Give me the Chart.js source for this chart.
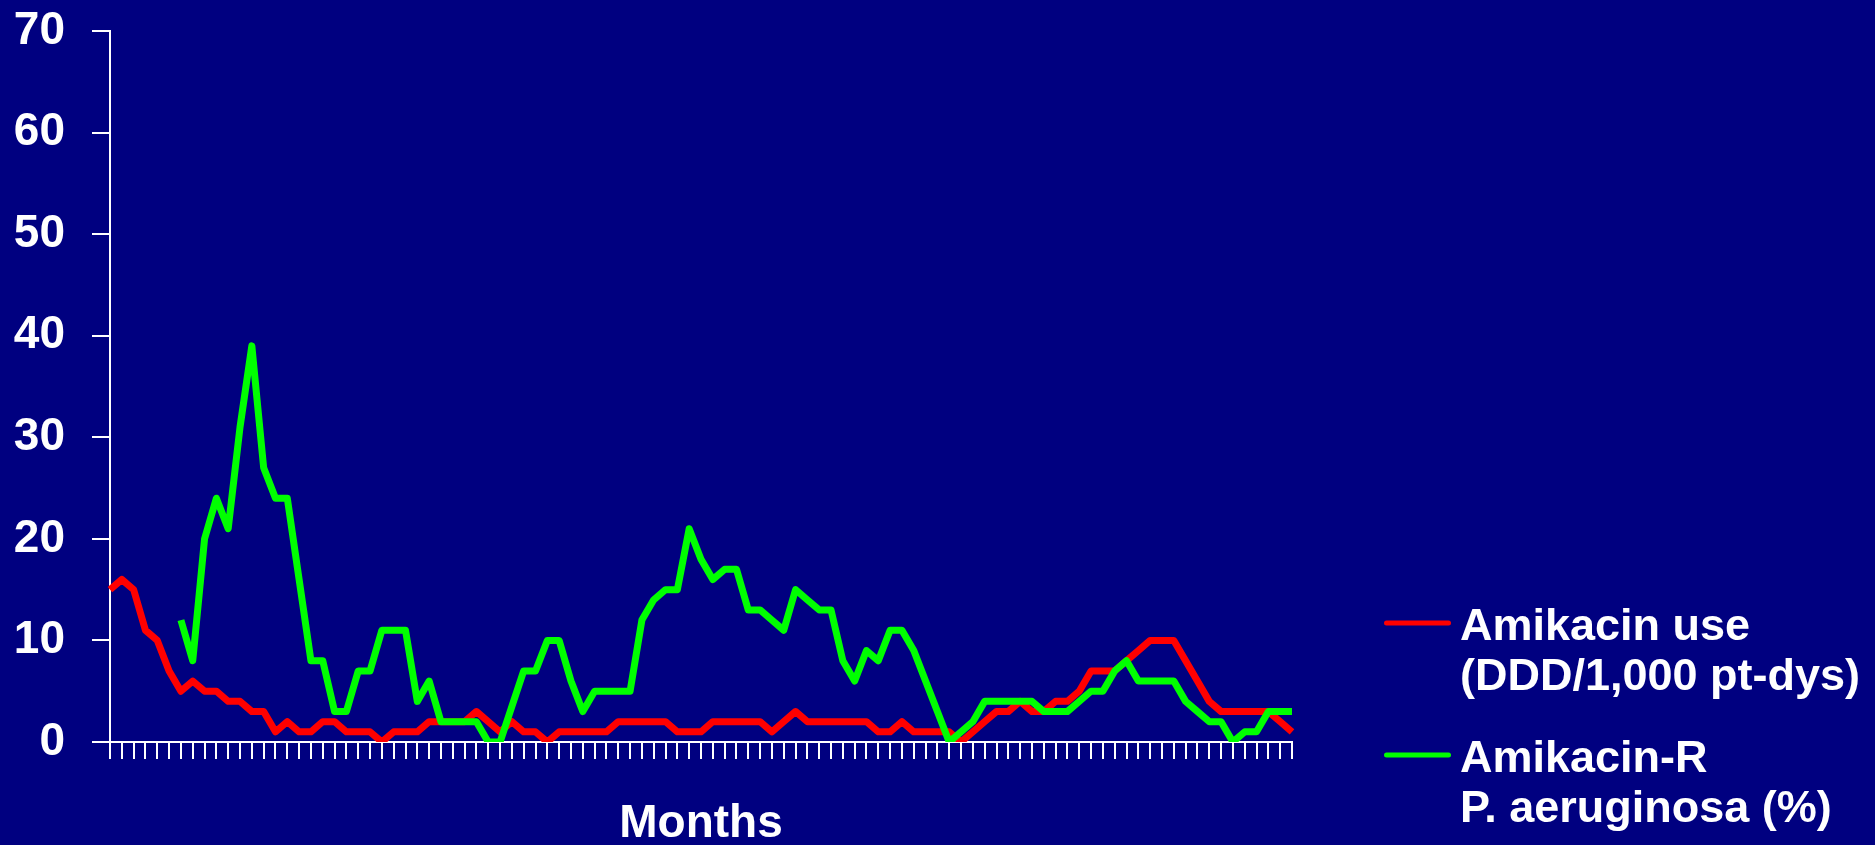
<!DOCTYPE html>
<html>
<head>
<meta charset="utf-8">
<title>Amikacin use and Amikacin-R P. aeruginosa</title>
<script src="https://cdn.jsdelivr.net/npm/chart.js@4.4.1/dist/chart.umd.min.js"></script>
<style>
  html, body { margin: 0; padding: 0; background: #000080; overflow: hidden; }
  canvas { display: block; }
</style>
</head>
<body>
<canvas id="chart" width="1875" height="845"></canvas>
<script>
// Month index along the category axis
const months = [
  1, 2, 3, 4, 5, 6, 7, 8, 9, 10, 11, 12, 13, 14, 15, 16, 17, 18, 19, 20,
  21, 22, 23, 24, 25, 26, 27, 28, 29, 30, 31, 32, 33, 34, 35, 36, 37, 38, 39, 40,
  41, 42, 43, 44, 45, 46, 47, 48, 49, 50, 51, 52, 53, 54, 55, 56, 57, 58, 59, 60,
  61, 62, 63, 64, 65, 66, 67, 68, 69, 70, 71, 72, 73, 74, 75, 76, 77, 78, 79, 80,
  81, 82, 83, 84, 85, 86, 87, 88, 89, 90, 91, 92, 93, 94, 95, 96, 97, 98, 99, 100,
  101
];

// Amikacin use, DDD per 1,000 patient-days
const amikacinUse = [
  15, 16, 15, 11, 10, 7, 5, 6, 5, 5,
  4, 4, 3, 3, 1, 2, 1, 1, 2, 2,
  1, 1, 1, 0, 1, 1, 1, 2, 2, 2,
  2, 3, 2, 1, 2, 1, 1, 0, 1, 1,
  1, 1, 1, 2, 2, 2, 2, 2, 1, 1,
  1, 2, 2, 2, 2, 2, 1, 2, 3, 2,
  2, 2, 2, 2, 2, 1, 1, 2, 1, 1,
  1, 1, 0, 1, 2, 3, 3, 4, 3, 3,
  4, 4, 5, 7, 7, 7, 8, 9, 10, 10,
  10, 8, 6, 4, 3, 3, 3, 3, 3, 2,
  1
];

// Amikacin-resistant P. aeruginosa, percent of isolates
const amikacinResistant = [
  null, null, null, null, null, null, 12, 8, 20, 24,
  21, 31, 39, 27, 24, 24, 16, 8, 8, 3,
  3, 7, 7, 11, 11, 11, 4, 6, 2, 2,
  2, 2, 0, 0, 3.5, 7, 7, 10, 10, 6,
  3, 5, 5, 5, 5, 12, 14, 15, 15, 21,
  18, 16, 17, 17, 13, 13, 12, 11, 15, 14,
  13, 13, 8, 6, 9, 8, 11, 11, 9, 6,
  3, 0, 1, 2, 4, 4, 4, 4, 4, 3,
  3, 3, 4, 5, 5, 7, 8, 6, 6, 6,
  6, 4, 3, 2, 2, 0, 1, 1, 3, 3,
  3
];

const yTickValues = [0, 10, 20, 30, 40, 50, 60, 70];
const seriesNames = [
  ['Amikacin use', '(DDD/1,000 pt-dys)'],
  ['Amikacin-R', 'P. aeruginosa (%)']
];
const xAxisTitle = 'Months';

const FONT = '"Liberation Sans", Arial, Helvetica, sans-serif';
const WHITE = '#ffffff';

// Two-line legend entries drawn to the right of the plot
const sideLegend = {
  id: 'sideLegend',
  afterDraw(chart) {
    const ctx = chart.ctx;
    ctx.save();
    chart.data.datasets.forEach((ds, i) => {
      const lineY = 623 + i * 132;
      ctx.strokeStyle = ds.borderColor;
      ctx.lineWidth = 5;
      ctx.lineCap = 'round';
      ctx.beginPath();
      ctx.moveTo(1386.5, lineY);
      ctx.lineTo(1448.5, lineY);
      ctx.stroke();

      ctx.fillStyle = WHITE;
      ctx.font = 'bold 45px ' + FONT;
      ctx.textAlign = 'left';
      ctx.textBaseline = 'alphabetic';
      ds.legendLines.forEach((line, j) => {
        ctx.fillText(line, 1460, lineY + 16.5 + j * 50);
      });
    });
    ctx.restore();
  }
};

const lineStyle = {
  borderWidth: 7,
  pointRadius: 0,
  pointHoverRadius: 0,
  tension: 0,
  fill: false,
  borderJoinStyle: 'round',
  borderCapStyle: 'butt',
  spanGaps: false
};

new Chart(document.getElementById('chart'), {
  type: 'line',
  data: {
    labels: months,
    datasets: [
      Object.assign({
        label: seriesNames[0].join(' '),
        legendLines: seriesNames[0],
        data: amikacinUse,
        borderColor: '#ff0000',
        order: 1
      }, lineStyle),
      Object.assign({
        label: seriesNames[1].join(' '),
        legendLines: seriesNames[1],
        data: amikacinResistant,
        borderColor: '#00ff00',
        order: 0
      }, lineStyle)
    ]
  },
  options: {
    responsive: false,
    animation: false,
    devicePixelRatio: 1,
    layout: { padding: { top: 31, right: 583, bottom: 0, left: 0 } },
    plugins: {
      legend: { display: false },
      tooltip: { enabled: false }
    },
    scales: {
      x: {
        type: 'category',
        offset: false,
        grid: {
          display: true,
          drawOnChartArea: false,
          drawTicks: true,
          tickLength: 17,
          color: WHITE,
          lineWidth: 2
        },
        border: { display: true, color: WHITE, width: 2 },
        ticks: { display: false, autoSkip: false },
        title: {
          display: true,
          text: xAxisTitle,
          color: WHITE,
          font: { family: FONT, size: 46, weight: 'bold', lineHeight: 0.92 },
          padding: { top: 0, bottom: 0 }
        },
        afterFit(scale) { scale.height = 103; }
      },
      y: {
        min: 0,
        max: 70,
        afterBuildTicks(scale) {
          scale.ticks = yTickValues.map(v => ({ value: v }));
        },
        grid: {
          display: true,
          drawOnChartArea: false,
          drawTicks: true,
          tickLength: 18,
          color: WHITE,
          lineWidth: 2
        },
        border: { display: true, color: WHITE, width: 2 },
        ticks: {
          color: WHITE,
          padding: 27,
          font: { family: FONT, size: 46, weight: 'bold' }
        },
        afterFit(scale) {
          scale.width = 110;
          // the label gap should not push the plot area down
          scale.paddingTop = 0;
          scale.paddingBottom = 0;
        }
      }
    }
  },
  plugins: [sideLegend]
});
</script>
</body>
</html>
